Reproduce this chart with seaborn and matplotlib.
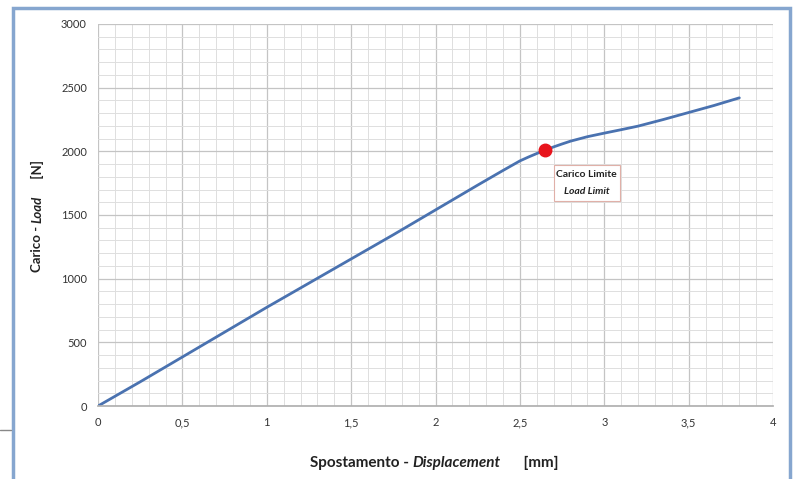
import numpy as np
import pandas as pd
import matplotlib
matplotlib.use('Agg')
import matplotlib.pyplot as plt
from matplotlib.ticker import MultipleLocator, FuncFormatter
from matplotlib.patches import Rectangle
from matplotlib.lines import Line2D
import seaborn as sns

# load-displacement curve
displacement = [0.0, 0.25, 0.5, 0.75, 1.0, 1.25, 1.5, 1.75, 2.0, 2.25, 2.4, 2.5,
                2.55, 2.6, 2.65, 2.7, 2.75, 2.8, 2.9, 3.0, 3.1, 3.2, 3.35, 3.5,
                3.65, 3.8]
load = [0, 190, 385, 580, 775, 965, 1155, 1345, 1540, 1735, 1850, 1925,
        1955, 1983, 2010, 2035, 2058, 2080, 2115, 2143, 2170, 2198, 2250, 2305,
        2360, 2420]
limit_x = 2.65
limit_y = 2010

df = pd.DataFrame({'Displacement': displacement, 'Load': load})

sns.set_theme(style='white')
plt.rcParams['font.family'] = ['Lato', 'DejaVu Sans']

fig = plt.figure(figsize=(7.97, 4.79), dpi=100)
ax = fig.add_axes([0.123, 0.1524, 0.847, 0.7975])

sns.lineplot(data=df, x='Displacement', y='Load', ax=ax, color='#4a72b0',
             linewidth=2.0)
ax.plot([limit_x], [limit_y], 'o', color='#e8141c', markersize=9, zorder=5)

ax.set_xlim(0, 4)
ax.set_ylim(0, 3000)
ax.xaxis.set_major_locator(MultipleLocator(0.5))
ax.xaxis.set_minor_locator(MultipleLocator(0.1))
ax.yaxis.set_major_locator(MultipleLocator(500))
ax.yaxis.set_minor_locator(MultipleLocator(100))
ax.xaxis.set_major_formatter(FuncFormatter(lambda v, p: f'{v:g}'.replace('.', ',')))
ax.grid(which='major', color='#c4c4c4', linewidth=0.9)
ax.grid(which='minor', color='#dedede', linewidth=0.7)
ax.set_axisbelow(True)
for s in ['top', 'right', 'left']:
    ax.spines[s].set_visible(False)
ax.spines['bottom'].set_color('#b0b0b0')
ax.tick_params(axis='both', which='major', labelsize=8, colors='#333333',
               length=0, pad=8)
ax.set_xlabel('')
ax.set_ylabel('')

# annotation box: outline and two lines of text
ax.add_patch(Rectangle((2.7, 1610), 0.39, 285, facecolor='white',
                       edgecolor='#e0b0a8', linewidth=0.8, zorder=4))
ax.text(2.895, 1820, 'Carico Limite', ha='center', va='center', fontsize=7.5,
        fontweight='bold', color='#222222', zorder=6)
ax.text(2.895, 1685, 'Load Limit', ha='center', va='center', fontsize=7.5,
        fontweight='bold', fontstyle='italic', color='#222222', zorder=6)

# x label in pieces (bold + bold italic)
t1 = fig.text(0.389, 0.026, 'Spostamento - ', fontsize=11, fontweight='bold',
              color='#222222', va='baseline')
t2 = ax.annotate('Displacement', xy=(1, 0), xycoords=t1, fontsize=11,
                 fontweight='bold', fontstyle='italic', color='#222222',
                 va='bottom', ha='left')
ax.annotate('      [mm]', xy=(1, 0), xycoords=t2, fontsize=11,
            fontweight='bold', color='#222222', va='bottom', ha='left')

# y label in pieces
y1 = fig.text(0.047, 0.432, 'Carico - ', fontsize=9.5, fontweight='bold',
              color='#222222', rotation=90, va='bottom', ha='center')
y2 = ax.annotate('Load', xy=(0.5, 1), xycoords=y1, fontsize=9.5,
                 fontweight='bold', fontstyle='italic', color='#222222',
                 rotation=90, va='bottom', ha='center')
ax.annotate('     [N]', xy=(0.5, 1), xycoords=y2, fontsize=9.5,
            fontweight='bold', color='#222222', rotation=90,
            va='bottom', ha='center')

# frame around the chart
fig.patches.append(Rectangle((0.016, -0.02), 0.975, 1.003,
                             transform=fig.transFigure, fill=False,
                             edgecolor='#86a6cf', linewidth=2.5))
fig.lines.append(Line2D([0.0, 0.014], [0.103, 0.103], transform=fig.transFigure,
                        color='#888888', linewidth=1.0))

fig.savefig('out.png', dpi=100)
